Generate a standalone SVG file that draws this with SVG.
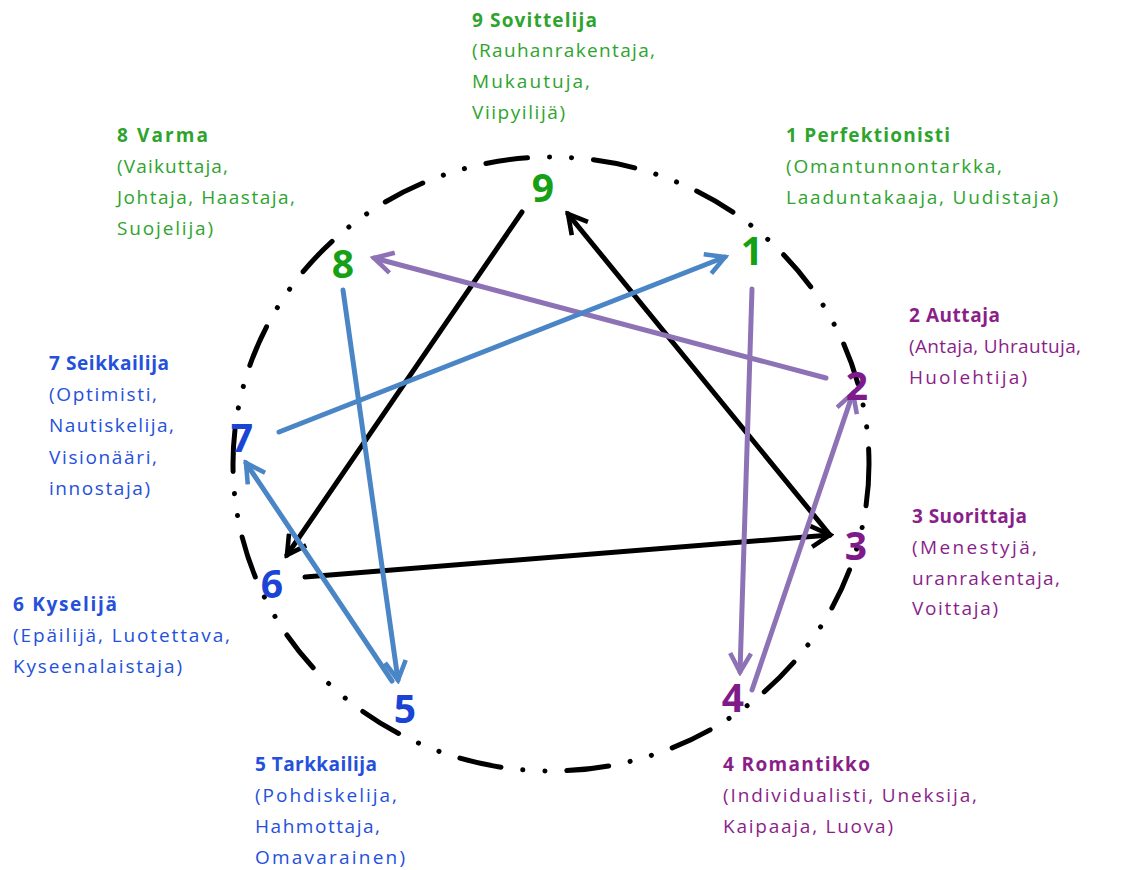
<svg xmlns="http://www.w3.org/2000/svg" width="1122" height="870" viewBox="0 0 1122 870">
<style>
.lbl{font-family:"Open Sans","Liberation Sans",sans-serif;font-size:19px}
.b{font-weight:bold}
.g{fill:#2ea42e}
.p{fill:#8a1f8a}
.bl{fill:#2450dc}
.num{font-family:"Open Sans","Liberation Sans",sans-serif;font-size:39px;font-weight:bold;text-anchor:middle}
.ng{fill:#16a016}
.np{fill:#7f1a8a}
.nb{fill:#1a44d4}
.ln{fill:none;stroke-width:5;stroke-linecap:round}
.k{stroke:#000}
.pu{stroke:#8e72b6}
.bu{stroke:#4a86c6}
</style>
<defs>
<marker id="ak" viewBox="0 0 12 12" refX="10" refY="6" markerWidth="5" markerHeight="5" orient="auto" markerUnits="strokeWidth"><path d="M1,1 L10,6 L1,11" fill="none" stroke="#000" stroke-width="2.2" stroke-linejoin="miter"/></marker>
<marker id="ap" viewBox="0 0 12 12" refX="10" refY="6" markerWidth="5" markerHeight="5" orient="auto" markerUnits="strokeWidth"><path d="M1,1 L10,6 L1,11" fill="none" stroke="#8e72b6" stroke-width="2.2"/></marker>
<marker id="ab" viewBox="0 0 12 12" refX="10" refY="6" markerWidth="5" markerHeight="5" orient="auto" markerUnits="strokeWidth"><path d="M1,1 L10,6 L1,11" fill="none" stroke="#4a86c6" stroke-width="2.2"/></marker>
</defs>
<rect width="1122" height="870" fill="#fff"/>
<ellipse id="circle" cx="551" cy="464" rx="318" ry="307" fill="none" stroke="#000" stroke-width="5" stroke-linecap="round" stroke-dasharray="42 22 0.1 22 0.1 22"/>
<g id="connectors">
<line class="ln k" x1="522" y1="212" x2="287" y2="555" marker-end="url(#ak)"/>
<line class="ln k" x1="305" y1="577" x2="830" y2="535" marker-end="url(#ak)"/>
<line class="ln k" x1="830" y1="535" x2="568" y2="214" marker-end="url(#ak)"/>
<line class="ln pu" x1="826" y1="378" x2="374" y2="258" marker-end="url(#ap)"/>
<line class="ln pu" x1="752" y1="289" x2="740" y2="672" marker-end="url(#ap)"/>
<line class="ln pu" x1="752" y1="690" x2="853" y2="393" marker-end="url(#ap)"/>
<line class="ln bu" x1="279" y1="432" x2="725" y2="257" marker-end="url(#ab)"/>
<line class="ln bu" x1="343" y1="290" x2="398" y2="680" marker-end="url(#ab)"/>
<line class="ln bu" x1="392" y1="681" x2="246" y2="463" marker-end="url(#ab)"/>
</g>
<g id="node9"><text class="num ng" x="543" y="202">9</text>
<text class="lbl g"><tspan class="b" x="472" y="27" textLength="125">9 Sovittelija</tspan><tspan x="472" y="57" textLength="183">(Rauhanrakentaja,</tspan><tspan x="472" y="88" textLength="118">Mukautuja,</tspan><tspan x="472" y="119" textLength="93">Viipyilijä)</tspan></text></g>
<g id="node8"><text class="num ng" x="343" y="278">8</text>
<text class="lbl g"><tspan class="b" x="117" y="142" textLength="91">8 Varma</tspan><tspan x="117" y="173" textLength="111">(Vaikuttaja,</tspan><tspan x="117" y="204" textLength="178">Johtaja,  Haastaja,</tspan><tspan x="117" y="235" textLength="96">Suojelija)</tspan></text></g>
<g id="node1"><text class="num ng" x="752" y="265">1</text>
<text class="lbl g"><tspan class="b" x="786" y="142" textLength="164">1 Perfektionisti</tspan><tspan x="786" y="173" textLength="216">(Omantunnontarkka,</tspan><tspan x="786" y="204" textLength="272">Laaduntakaaja,  Uudistaja)</tspan></text></g>
<g id="node2"><text class="num np" x="857" y="400">2</text>
<text class="lbl p"><tspan class="b" x="909" y="322" textLength="91">2 Auttaja</tspan><tspan x="909" y="353" textLength="172">(Antaja, Uhrautuja,</tspan><tspan x="909" y="384" textLength="118">Huolehtija)</tspan></text></g>
<g id="node3"><text class="num np" x="856" y="560">3</text>
<text class="lbl p"><tspan class="b" x="912" y="523" textLength="115">3 Suorittaja</tspan><tspan x="912" y="554" textLength="125">(Menestyjä,</tspan><tspan x="912" y="585" textLength="148">uranrakentaja,</tspan><tspan x="912" y="615" textLength="86">Voittaja)</tspan></text></g>
<g id="node4"><text class="num np" x="733" y="712">4</text>
<text class="lbl p"><tspan class="b" x="723" y="771" textLength="147">4 Romantikko</tspan><tspan x="723" y="802" textLength="254">(Individualisti, Uneksija,</tspan><tspan x="723" y="833" textLength="170">Kaipaaja, Luova)</tspan></text></g>
<g id="node5"><text class="num nb" x="405" y="723">5</text>
<text class="lbl bl"><tspan class="b" x="255" y="771" textLength="122">5 Tarkkailija</tspan><tspan x="255" y="802" textLength="142">(Pohdiskelija,</tspan><tspan x="255" y="833" textLength="125">Hahmottaja,</tspan><tspan x="255" y="864" textLength="150">Omavarainen)</tspan></text></g>
<g id="node6"><text class="num nb" x="272" y="598">6</text>
<text class="lbl bl"><tspan class="b" x="13" y="611" textLength="104">6 Kyselijä</tspan><tspan x="13" y="642" textLength="217">(Epäilijä,  Luotettava,</tspan><tspan x="13" y="673" textLength="169">Kyseenalaistaja)</tspan></text></g>
<g id="node7"><text class="num nb" x="242" y="452">7</text>
<text class="lbl bl"><tspan class="b" x="49" y="370" textLength="120">7 Seikkailija</tspan><tspan x="49" y="401" textLength="108">(Optimisti,</tspan><tspan x="49" y="432" textLength="125">Nautiskelija,</tspan><tspan x="49" y="464" textLength="108">Visionääri,</tspan><tspan x="49" y="495" textLength="101">innostaja)</tspan></text></g>
</svg>
